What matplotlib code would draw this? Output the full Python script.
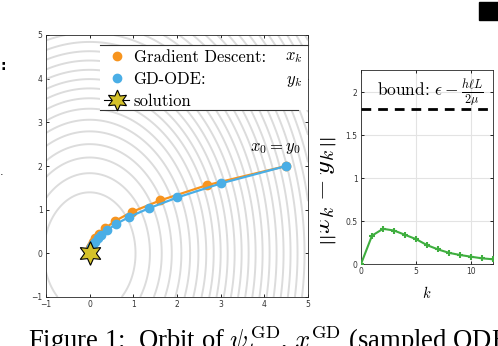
import numpy as np
import matplotlib
matplotlib.use("Agg")
import matplotlib.pyplot as plt
from matplotlib.lines import Line2D
from matplotlib.patches import Rectangle
from matplotlib.transforms import Bbox, TransformedBbox

# ─── DATA ──────────────────────────────────────────────────────────────────────
# gradient descent iterates x_k
gd_x = [4.5, 2.68, 1.61, 0.97, 0.58, 0.35, 0.21, 0.13, 0.076, 0.045, 0.027, 0.016, 0.01, 0.006]
gd_y = [2.0, 1.56, 1.21, 0.95, 0.74, 0.57, 0.44, 0.34, 0.26, 0.2, 0.16, 0.12, 0.095, 0.074]
# sampled ODE y_k
ode_x = [4.5, 3.0, 2.01, 1.35, 0.9, 0.6, 0.4, 0.27, 0.18, 0.12, 0.08, 0.053, 0.036, 0.024]
ode_y = [2.0, 1.6, 1.28, 1.03, 0.83, 0.67, 0.53, 0.42, 0.34, 0.27, 0.22, 0.17, 0.14, 0.11]
sol_x = [0.0]
sol_y = [0.0]
# level-set "radii" (x semi-axis) of the contour ellipses
ring_radii = [1.05, 1.38, 1.65, 1.88, 2.1, 2.3, 2.49, 2.67, 2.84, 3.0, 3.16, 3.32,
              3.48, 3.64, 3.8, 3.96, 4.12, 4.28, 4.44, 4.6, 4.76, 4.92, 5.08, 5.24,
              5.4, 5.56, 5.72, 5.88, 6.04, 6.2, 6.36]
ELL_RATIO = 1.33

# ||x_k - y_k||
k_vals = list(range(13))
diff_norm = [0.0, 0.33, 0.41, 0.39, 0.34, 0.29, 0.22, 0.17, 0.13, 0.105, 0.085, 0.066, 0.055]
BOUND = 1.8

# ─── STYLE ─────────────────────────────────────────────────────────────────────
W, H = 498, 346
ORANGE = "#f7941e"
BLUE = "#4aaee6"
GREEN = "#3fae3f"
STAR = "#d4c12a"
plt.rcParams["mathtext.fontset"] = "cm"


def px(x0, y0, x1, y1):
    """figure rect from pixel box (top-left origin)"""
    return [x0 / W, 1 - y1 / H, (x1 - x0) / W, (y1 - y0) / H]


fig = plt.figure(figsize=(W / 100, H / 100), dpi=100)

# ── left: orbits ──────────────────────────────────────────────────────────────
ax = fig.add_axes(px(46, 35, 308, 297))
xx, yy = np.meshgrid(np.linspace(-1, 5, 700), np.linspace(-1, 5, 700))
rr = np.sqrt(xx ** 2 + (yy / ELL_RATIO) ** 2)
ax.contour(xx, yy, rr, levels=ring_radii, colors="#dcdcdc", linewidths=1.4)
ax.plot(gd_x, gd_y, "-o", color=ORANGE, ms=6, lw=1.6, zorder=3)
ax.plot(ode_x, ode_y, "-o", color=BLUE, ms=6, lw=1.6, zorder=4)
ax.plot(sol_x, sol_y, ls="none", marker=(6, 1, 0), ms=17, mfc=STAR, mec="k",
        mew=0.8, zorder=5)
ax.text(4.26, 2.44, r"$x_0 = y_0$", fontsize=12, ha="center", va="center")
ax.set_xlim(-1, 5)
ax.set_ylim(-1, 5)
ax.set_xticks(range(-1, 6))
ax.set_yticks(range(-1, 6))
ax.tick_params(direction="in", length=2.5, width=0.6, top=True, right=True,
               labelsize=5.5, labelcolor="#333333", pad=2.5)
for s in ax.spines.values():
    s.set_linewidth(0.6)
    s.set_color("#262626")

# legend box with only top/bottom rules
fig.add_artist(Rectangle((100 / W, 1 - 110 / H), 208 / W, 65 / H,
                         transform=fig.transFigure, facecolor="white",
                         edgecolor="none", zorder=1))
fig.add_artist(Line2D([100 / W, 308 / W], [1 - 45 / H] * 2, color="#333333", lw=0.8, zorder=2))
fig.add_artist(Line2D([100 / W, 298 / W], [1 - 110 / H] * 2, color="#333333", lw=0.8, zorder=2))
handles = [
    Line2D([], [], ls="none", marker="o", ms=6, color=ORANGE),
    Line2D([], [], ls="none", marker="o", ms=6, color=BLUE),
    Line2D([], [], ls="-", color="k", lw=0.8, marker=(6, 1, 0), ms=15, mfc=STAR, mec="k", mew=0.8),
]
fig.legend(handles, ["Gradient Descent:", "GD-ODE:", "solution"], loc="upper left",
           bbox_to_anchor=(101 / W, 1 - 46 / H), frameon=False, prop={"family": "cmr10", "size": 12},
           handlelength=1.5, handletextpad=0.25, labelspacing=0.42, borderpad=0.2,
           borderaxespad=0)
fig.text(302 / W, 1 - 56 / H, r"$x_k$", fontsize=12, ha="right", va="center")
fig.text(302 / W, 1 - 80 / H, r"$y_k$", fontsize=12, ha="right", va="center")

# ── right: distance ───────────────────────────────────────────────────────────
ax2 = fig.add_axes(px(361, 70, 493, 264))
ax2.plot(k_vals, diff_norm, "-+", color=GREEN, lw=1.5, ms=5, mew=1.5, zorder=3)
ax2.axhline(BOUND, color="k", lw=2, ls=(0, (3.5, 2.5)), zorder=4)
ax2.set_xlim(0, 12)
ax2.set_ylim(0, 2.26)
ax2.set_xticks([0, 5, 10])
ax2.set_yticks([0, 0.5, 1, 1.5, 2])
ax2.set_xticklabels(["0", "5", "10"])
ax2.set_yticklabels(["0", "0.5", "1", "1.5", "2"])
ax2.grid(True, color="#e3e3e3", lw=0.8)
ax2.set_axisbelow(True)
ax2.tick_params(direction="in", length=2.5, width=0.6, top=True, right=True,
                labelsize=5.5, labelcolor="#333333", pad=2.5)
for s in ax2.spines.values():
    s.set_linewidth(0.6)
    s.set_color("#262626")
fig.text(430 / W, 1 - 92 / H, r"bound: $\epsilon - \frac{h\ell L}{2\mu}$",
         fontsize=12.5, family="cmr10", ha="center", va="center")
fig.text(427 / W, 1 - 293 / H, r"$k$", fontsize=10.5, ha="center", va="center")
# y label is cut off on its left side by the neighbouring panel
ylab = fig.text(322 / W, 1 - 192 / H, r"$\|x_k - y_k\|$", fontsize=20, rotation=90,
                ha="center", va="center")
ylab.set_clip_box(TransformedBbox(Bbox([[320 / W, 0], [1, 1]]), fig.transFigure))
ylab.set_clip_on(True)

# ── cropped page fragments ────────────────────────────────────────────────────
fig.add_artist(Rectangle((479 / W, 1 - 20 / H), 19 / W, 18 / H,
                         transform=fig.transFigure, color="k"))
fig.text(0, 1 - 66 / H, ":", fontsize=10, fontweight="bold", ha="left", va="center")
fig.text(0, 1 - 172 / H, ".", fontsize=8, ha="left", va="center")
fig.text(28 / W, 1 - 349 / H,
         r"Figure 1:  Orbit of $\psi_t^{\mathrm{GD}}$, $x^{\mathrm{GD}}$ (sampled ODE",
         fontsize=19.2, family="Liberation Serif", ha="left", va="baseline")

fig.savefig("out.png", dpi=100)
